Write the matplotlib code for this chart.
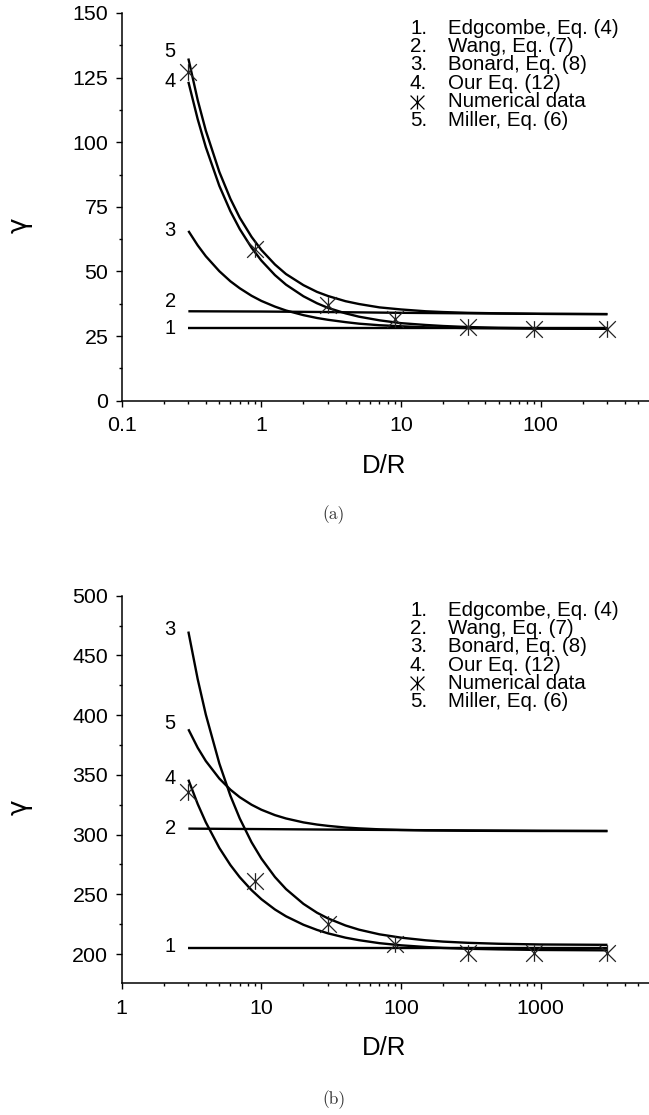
import matplotlib
matplotlib.use("Agg")
import matplotlib.pyplot as plt
from matplotlib.path import Path
from matplotlib.ticker import MultipleLocator, LogLocator, FuncFormatter, NullFormatter

plt.rcParams["font.family"] = ["Liberation Sans", "DejaVu Sans"]

# ---- panel (a): gamma vs D/R ----
XA = [0.3, 0.35, 0.4, 0.5, 0.6, 0.7, 0.85, 1, 1.25, 1.5, 2, 2.5, 3, 4, 5, 7,
      10, 15, 20, 30, 50, 100, 300]
A_OUR = [123.4, 108.9, 98.1, 83.1, 73.3, 66.4, 59.2, 54.2, 48.6, 44.9, 40.4, 37.7,
         35.9, 33.8, 32.5, 31.1, 30.0, 29.3, 28.9, 28.5, 28.2, 28.0, 27.9]
A_MILLER = [132.4, 116.3, 104.5, 88.5, 78.1, 70.8, 63.4, 58.3, 52.7, 49.0, 44.7, 42.1,
            40.5, 38.5, 37.4, 36.1, 35.3, 34.6, 34.3, 34.0, 33.8, 33.6, 33.5]
A_BONARD = [65.7, 60.1, 55.9, 50.1, 46.2, 43.5, 40.6, 38.6, 36.4, 34.9, 33.1, 32.0,
            31.3, 30.4, 29.8, 29.2, 28.8, 28.4, 28.3, 28.1, 28.0, 27.9, 27.8]
XA_FLAT = [0.3, 1, 3, 10, 30, 100, 300]
A_EDGCOMBE = [28.0, 28.0, 28.0, 28.0, 28.0, 28.0, 28.0]
A_WANG = [34.6, 34.5, 34.3, 34.0, 33.8, 33.6, 33.5]
XA_NUM = [0.3, 0.9, 3, 9, 30, 90, 300]
A_NUM = [127.2, 58.6, 37.0, 31.5, 28.6, 27.9, 27.8]
A_TAGS = ["5", "4", "3", "2", "1"]
A_TAG_Y = [135.0, 123.4, 66.0, 38.3, 28.1]
A_XTICKS = [0.1, 1, 10, 100]

# ---- panel (b) ----
XB = [3, 3.5, 4, 5, 6, 7, 8.5, 10, 12.5, 15, 20, 25, 30, 40, 50, 70, 100, 150,
      200, 300, 500, 1000, 3000]
B_OUR = [346.0, 325.6, 310.3, 288.8, 274.5, 264.3, 253.5, 245.9, 237.3, 231.6, 224.5,
         220.2, 217.3, 213.7, 211.6, 209.1, 207.3, 205.9, 205.1, 204.4, 203.9, 203.4, 203.1]
B_BONARD = [470.0, 430.1, 400.5, 359.5, 332.5, 313.5, 293.6, 279.9, 264.5, 254.4, 242.0,
            234.6, 229.8, 223.9, 220.4, 216.5, 213.7, 211.5, 210.4, 209.4, 208.6, 208.0, 207.7]
B_MILLER = [388.2, 372.7, 361.6, 346.9, 337.6, 331.3, 325.0, 320.8, 316.3, 313.5, 310.2,
            308.4, 307.3, 305.9, 305.2, 304.4, 303.9, 303.5, 303.4, 303.2, 303.1, 303.0, 303.0]
XB_FLAT = [3, 10, 30, 100, 300, 1000, 3000]
B_EDGCOMBE = [205.3, 205.3, 205.3, 205.3, 205.3, 205.3, 205.3]
B_WANG = [305.0, 304.6, 304.2, 303.8, 303.5, 303.2, 303.0]
XB_NUM = [3, 9, 30, 90, 300, 900, 3000]
B_NUM = [335.6, 261.5, 225.2, 208.4, 201.2, 200.8, 200.8]
B_TAGS = ["3", "5", "4", "2", "1"]
B_TAG_Y = [472.0, 393.0, 346.8, 305.0, 205.9]
B_XTICKS = [1, 10, 100, 1000]

LEGEND_KEYS = ["1.", "2.", "3.", "4.", "*", "5."]
LEGEND_TEXT = ["Edgcombe, Eq. (4)", "Wang, Eq. (7)", "Bonard, Eq. (8)",
               "Our Eq. (12)", "Numerical data", "Miller, Eq. (6)"]

W, H = 649, 1115
STAR = Path([(0, -1), (0, 1), (-1, -1), (1, 1), (-1, 1), (1, -1)],
            [Path.MOVETO, Path.LINETO] * 3)


def fx(px):
    return px / W


def fy(py):
    return 1 - py / H


def setup(ax, xlim, ylim, major, minor, xticks):
    ax.set_xscale("log")
    ax.set_xlim(*xlim)
    ax.set_ylim(*ylim)
    for s in ("top", "right"):
        ax.spines[s].set_visible(False)
    for s in ("left", "bottom"):
        ax.spines[s].set_linewidth(1.1)
    ax.yaxis.set_major_locator(MultipleLocator(major))
    ax.yaxis.set_minor_locator(MultipleLocator(minor))
    ax.xaxis.set_major_locator(LogLocator(base=10))
    ax.xaxis.set_minor_locator(LogLocator(base=10, subs=range(2, 10)))
    # the axis runs past the right edge of the page, so only label visible decades
    ax.xaxis.set_major_formatter(
        FuncFormatter(lambda v, _: f"{v:g}" if min(abs(v - t) / t for t in xticks) < 1e-6 else ""))
    ax.xaxis.set_minor_formatter(NullFormatter())
    ax.tick_params(which="major", direction="out", length=4.6, width=1.0,
                   labelsize=15.4, pad=5)
    ax.tick_params(which="minor", direction="out", length=2.4, width=1.0)
    ax.tick_params(axis="x", which="major", pad=6.5)


def panel(ax, xs, curves, xflat, flats, xnum, ynum, tags, tag_y, tag_x):
    for ys in curves:
        ax.plot(xs, ys, color="black", lw=1.7, solid_capstyle="butt")
    for ys in flats:
        ax.plot(xflat, ys, color="black", lw=1.7, solid_capstyle="butt")
    ax.plot(xnum, ynum, ls="none", marker=STAR, ms=12, mew=0.9,
            color="#222222", zorder=5)
    for t, y in zip(tags, tag_y):
        ax.text(tag_x, y, t, ha="center", va="center", fontsize=14.5)


def legend(fig, top):
    for i, (k, t) in enumerate(zip(LEGEND_KEYS, LEGEND_TEXT)):
        y = top + i * 18.35
        if k == "*":
            fig.lines.append(plt.Line2D([fx(417.3)], [fy(y)], transform=fig.transFigure,
                                        ls="none", marker=STAR, ms=10, mew=0.9,
                                        color="black"))
        else:
            fig.text(fx(410), fy(y), k, ha="left", va="center", fontsize=14.8)
        fig.text(fx(448), fy(y), t, ha="left", va="center", fontsize=14.8)


fig = plt.figure(figsize=(W / 100, H / 100), dpi=100)

ax_a = fig.add_axes([fx(121.7), fy(400.7), 558.8 / W, 387.7 / H])
setup(ax_a, (0.1, 1000), (0, 150), 25, 12.5, A_XTICKS)
panel(ax_a, XA, [A_OUR, A_MILLER, A_BONARD], XA_FLAT, [A_EDGCOMBE, A_WANG],
      XA_NUM, A_NUM, A_TAGS, A_TAG_Y, 0.222)

ax_b = fig.add_axes([fx(121.7), fy(983.3), 558.8 / W, 387.6 / H])
setup(ax_b, (1, 10000), (175.5, 500), 50, 25, B_XTICKS)
panel(ax_b, XB, [B_OUR, B_BONARD, B_MILLER], XB_FLAT, [B_EDGCOMBE, B_WANG],
      XB_NUM, B_NUM, B_TAGS, B_TAG_Y, 2.22)

legend(fig, 28.3)
legend(fig, 610.0)

for yc in (225.0, 807.0):
    fig.text(fx(20), fy(yc), "\u03b3", rotation=90, ha="center", va="center",
             fontsize=19, family="DejaVu Sans")
for yc in (466.0, 1048.0):
    fig.text(fx(384), fy(yc), "D/R", ha="center", va="center", fontsize=18.5)
for yc, cap in ((515.0, "(a)"), (1100.0, "(b)")):
    fig.text(fx(334), fy(yc), cap, ha="center", va="center", fontsize=12.5,
             family="cmr10", color="#333333")

fig.savefig("out.png", dpi=100)
